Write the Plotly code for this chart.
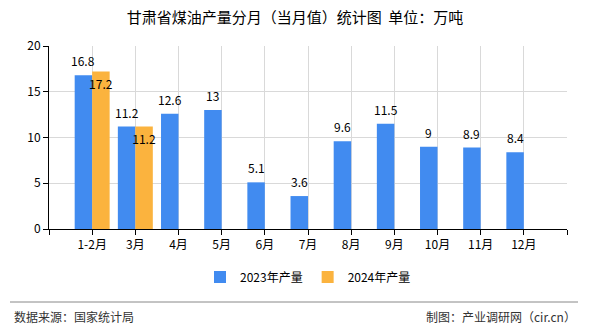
import plotly.graph_objects as go

months = ["1-2月", "3月", "4月", "5月", "6月", "7月", "8月", "9月", "10月", "11月", "12月"]
prod_2023 = [16.8, 11.2, 12.6, 13, 5.1, 3.6, 9.6, 11.5, 9, 8.9, 8.4]
prod_2024 = [17.2, 11.2, None, None, None, None, None, None, None, None, None]
y_ticks = [0, 5, 10, 15, 20]

FONT = "Noto Sans CJK SC, Noto Sans, sans-serif"
BLUE = "#418BF0"
ORANGE = "#FBB33E"
BARGAP = 0.19

xpos = list(range(len(months)))

fig = go.Figure()
fig.add_trace(go.Bar(
    x=xpos, y=prod_2023, name="2023年产量", marker=dict(color=BLUE, line=dict(width=0)),
))
fig.add_trace(go.Bar(
    x=xpos, y=prod_2024, name="2024年产量", marker=dict(color=ORANGE, line=dict(width=0)),
    text=[f"{v:g}" if v is not None else "" for v in prod_2024],
    textposition="inside", insidetextanchor="end", textangle=0,
    constraintext="none", cliponaxis=False,
    textfont=dict(family=FONT, size=12, color="#000000"),
))

# value labels for 2023 bars, centred over the left bar of each group
offset = (1 - BARGAP) / 4
for i, v in zip(xpos, prod_2023):
    fig.add_annotation(x=i - offset, y=v, xref="x", yref="y", text=f"{v:g}",
                       showarrow=False, yanchor="bottom", yshift=4,
                       font=dict(family=FONT, size=12, color="#000000"))

fig.update_layout(
    width=590, height=330,
    margin=dict(l=49, r=23, t=46, b=101),
    paper_bgcolor="white", plot_bgcolor="white",
    barmode="group", bargap=BARGAP, bargroupgap=0,
    font=dict(family=FONT, size=12, color="#000000"),
    title=dict(text="甘肃省煤油产量分月（当月值）统计图  单位：万吨",
               x=0.5, xanchor="center", xref="container",
               y=1 - 18 / 330, yanchor="middle", yref="container",
               font=dict(family=FONT, size=15, color="#000000")),
    showlegend=True,
    legend=dict(orientation="h", x=0.5, xanchor="center", y=-0.262, yanchor="middle",
                font=dict(family=FONT, size=12, color="#000000"),
                itemwidth=30, tracegroupgap=0, bgcolor="rgba(0,0,0,0)"),
    xaxis=dict(
        range=[-1, len(months)], tickmode="array",
        tickvals=list(range(-1, len(months) + 1)),
        ticktext=[""] + months + [""],
        showgrid=True, gridcolor="#D9D9D9", gridwidth=1,
        showline=True, linecolor="#000000", linewidth=1,
        ticks="outside", ticklen=5, tickcolor="#000000",
        tickfont=dict(family=FONT, size=12, color="#000000"),
        zeroline=False, fixedrange=True,
    ),
    yaxis=dict(
        range=[0, 20], tickmode="array", tickvals=y_ticks,
        showgrid=True, gridcolor="#D9D9D9", gridwidth=1,
        showline=True, linecolor="#000000", linewidth=1,
        ticks="outside", ticklen=5, tickcolor="#000000",
        tickfont=dict(family=FONT, size=12, color="#000000"),
        zeroline=False, fixedrange=True,
    ),
)

fig.add_shape(type="line", xref="paper", yref="paper",
              x0=(10 - 49) / 518, x1=(578 - 49) / 518,
              y0=(229 - 302) / 183, y1=(229 - 302) / 183,
              line=dict(color="#888888", width=1))
fig.add_annotation(text="数据来源：国家统计局", xref="paper", yref="paper",
                   x=(12 - 49) / 518, y=(229 - 316) / 183, xanchor="left", yanchor="middle",
                   showarrow=False, font=dict(family=FONT, size=12, color="#333333"))
fig.add_annotation(text="制图：产业调研网（cir.cn）", xref="paper", yref="paper",
                   x=(578 - 49) / 518, y=(229 - 316) / 183, xanchor="right", yanchor="middle",
                   showarrow=False, font=dict(family=FONT, size=12, color="#333333"))

fig.write_html("out.html")
